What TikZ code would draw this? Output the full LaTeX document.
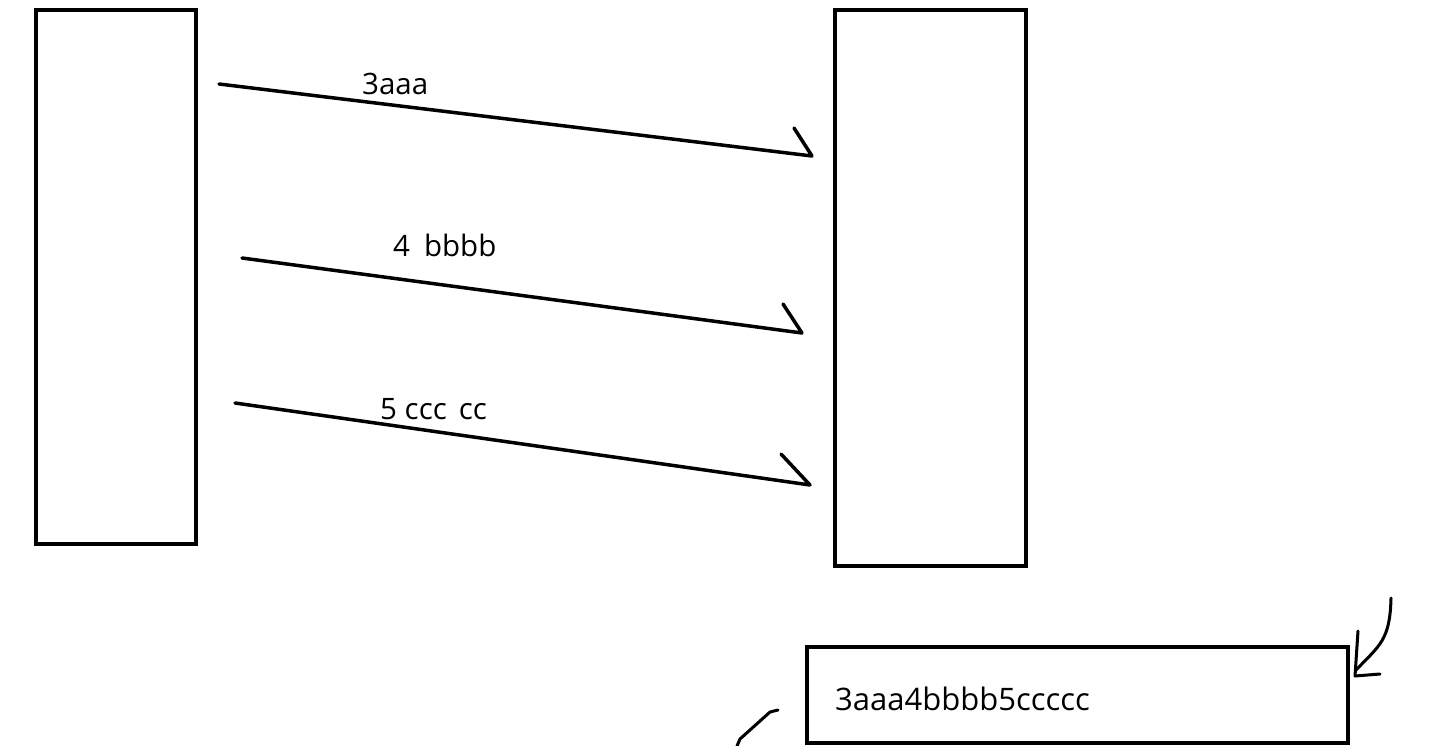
\documentclass[tikz,border=0pt]{standalone}
\usepackage{fontspec}
\setmainfont{Open Sans}
\begin{document}
\begin{tikzpicture}[x=1pt,y=-1pt,
  box/.style={draw=black,line width=3.5pt,inner sep=0pt},
  stroke/.style={draw=black,line width=3.5pt,line cap=round,line join=round},
  hand/.style={draw=black,line width=3pt,line cap=round,line join=round},
  lbl/.style={anchor=base west,inner sep=0pt,font=\fontsize{29.5}{34}\selectfont},
  res/.style={anchor=base west,inner sep=0pt,font=\fontsize{31}{36}\selectfont}]
\useasboundingbox[fill=white] (0,0) rectangle (1453,746);
% boxes
\node[box,minimum width=160pt,minimum height=534pt] (left) at (116,277) {};
\node[box,minimum width=191pt,minimum height=556pt] (right) at (930.5,288) {};
\node[box,minimum width=541pt,minimum height=96pt] (resbox) at (1077.5,695) {};
% arrows
\coordinate (a1s) at (219,84);  \coordinate (a1e) at (812,156); \coordinate (a1b) at (794,128);
\coordinate (a2s) at (242,258); \coordinate (a2e) at (802,333); \coordinate (a2b) at (783,304);
\coordinate (a3s) at (235,403); \coordinate (a3e) at (810,485); \coordinate (a3b) at (781,454);
\draw[stroke] (a1s) -- (a1e) -- (a1b);
\draw[stroke] (a2s) -- (a2e) -- (a2b);
\draw[stroke] (a3s) -- (a3e) -- (a3b);
\node[lbl] (l1) at (362,95) {3aaa};
\node[lbl] (l2) at (393,256) {4\hspace{14pt}bbbb};
\node[lbl] (l3) at (380,419) {5 ccc\hspace{12pt}cc};
\node[res] (r) at (835,710) {3aaa4bbbb5ccccc};
% hand-drawn curved arrow bottom right
\coordinate (c1) at (1391,598);
\coordinate (c2) at (1356,670);
\draw[hand] (c1) .. controls (1390,640) and (1380,645) .. (c2);
\draw[hand] (1358,631) -- (1355,676) -- (1380,674);
% stroke bottom left
\draw[hand] (737,746) -- (740,739) -- (770,712) -- (778,710);
\end{tikzpicture}
\end{document}
